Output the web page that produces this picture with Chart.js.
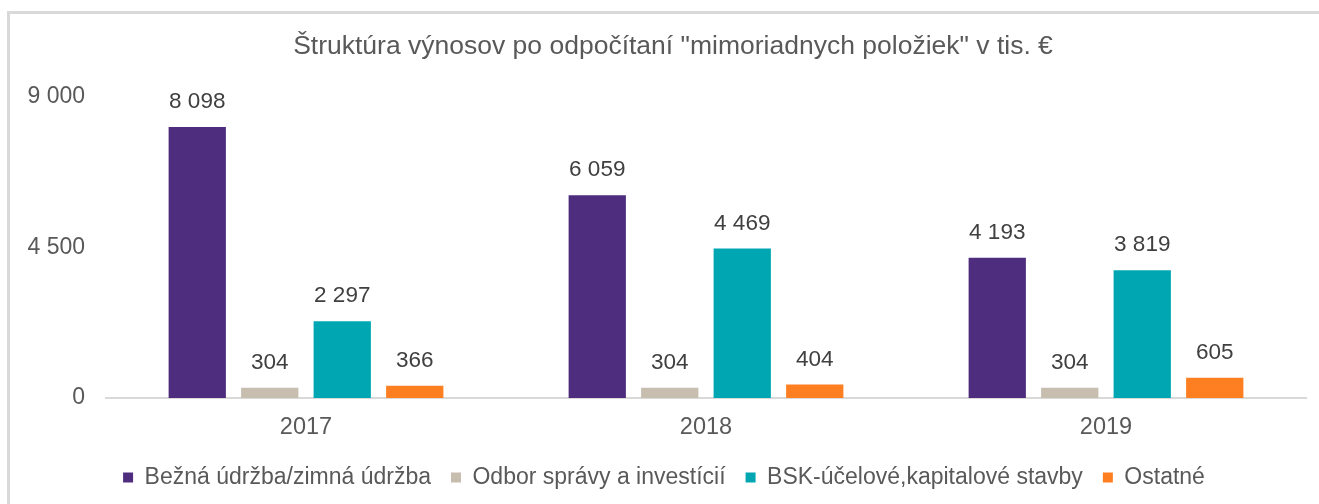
<!DOCTYPE html>
<html>
<head>
<meta charset="utf-8">
<script src="https://cdn.jsdelivr.net/npm/chart.js@4.4.0/dist/chart.umd.min.js"></script>
<style>
  html, body { margin: 0; padding: 0; background: #ffffff; overflow: hidden; }
  #frame { position: absolute; left: 7px; top: 11px; width: 1330px; height: 520px;
           border-top: 3px solid #d9d9d9; border-left: 3px solid #d9d9d9; }
  #wrap { position: absolute; left: 0; top: 0; width: 1319px; height: 504px; }
</style>
</head>
<body>
<div id="frame"></div>
<div id="wrap"><canvas id="c" width="1319" height="504"></canvas></div>
<script>
const categories = ["2017", "2018", "2019"];
const seriesNames = ["Bežná údržba/zimná údržba", "Odbor správy a investícií", "BSK-účelové,kapitalové stavby", "Ostatné"];
const bezna = [8098, 6059, 4193];
const odbor = [304, 304, 304];
const bsk = [2297, 4469, 3819];
const ostatne = [366, 404, 605];
const yTicks = [0, 4500, 9000];
const colors = ["#4e2d7e", "#c7beb0", "#00a7b3", "#fe7f22"];
const FONT = "'Liberation Sans', Arial, sans-serif";

function fmt(v) {
  return String(v).replace(/\B(?=(\d{3})+(?!\d))/g, " ");
}

const labelPlugin = {
  id: "valueLabels",
  afterLayout(chart) {
    if (chart.titleBlock) chart.titleBlock.left += 40;
    if (chart.legend) chart.legend.left += 22;
  },
  afterDatasetsDraw(chart) {
    const ctx = chart.ctx;
    ctx.save();
    ctx.font = "22.5px " + FONT;
    ctx.fillStyle = "#404040";
    ctx.textAlign = "center";
    ctx.textBaseline = "middle";
    chart.data.datasets.forEach((ds, i) => {
      const meta = chart.getDatasetMeta(i);
      meta.data.forEach((bar, j) => {
        ctx.fillText(fmt(ds.data[j]), bar.x, bar.y - 25);
      });
    });
    ctx.restore();
  }
};

const series = [bezna, odbor, bsk, ostatne];
new Chart(document.getElementById("c"), {
  type: "bar",
  data: {
    labels: categories,
    datasets: series.map((d, i) => ({
      label: seriesNames[i],
      data: d,
      backgroundColor: colors[i],
      borderWidth: 0,
      categoryPercentage: 0.725,
      barPercentage: 0.79
    }))
  },
  options: {
    responsive: false,
    animation: false,
    layout: { padding: { left: 0, right: 13, top: 0, bottom: 5 } },
    plugins: {
      title: {
        display: true,
        text: "Štruktúra výnosov po odpočítaní \"mimoriadnych položiek\" v tis. €",
        color: "#595959",
        font: { family: FONT, size: 26.5, weight: "normal" },
        padding: { top: 31, bottom: 34 }
      },
      legend: {
        position: "bottom",
        labels: {
          color: "#595959",
          font: { family: FONT, size: 23 },
          boxWidth: 10,
          boxHeight: 10,
          padding: 20
        }
      },
      tooltip: { enabled: false }
    },
    scales: {
      x: {
        grid: { display: false, drawTicks: false },
        border: { display: true, color: "#d9d9d9", width: 2 },
        ticks: {
          color: "#595959",
          font: { family: FONT, size: 23.5 },
          padding: 15
        },
        afterFit(scale) { scale.height = 48; }
      },
      y: {
        min: 0,
        max: 9000,
        grid: { display: false, drawTicks: false },
        border: { display: false },
        afterBuildTicks(scale) { scale.ticks = yTicks.map(v => ({ value: v })); },
        ticks: {
          color: "#595959",
          font: { family: FONT, size: 23 },
          padding: 21,
          callback: (v) => fmt(v)
        },
        afterFit(scale) { scale.width = 106; }
      }
    }
  },
  plugins: [labelPlugin]
});
</script>
</body>
</html>
